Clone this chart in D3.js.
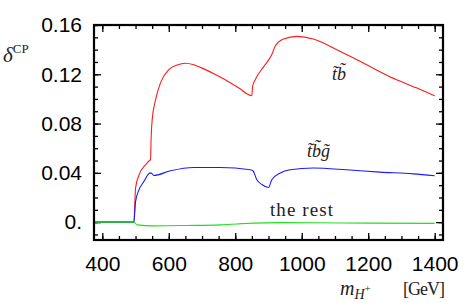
<!DOCTYPE html>
<html lang="en">
<head>
<meta charset="UTF-8">
<title>delta CP</title>
<script src="https://d3js.org/d3.v7.min.js"></script>
<style>
    body { margin: 0; background: #fff; }
    .tick text { font-family: "Liberation Sans", Arial, sans-serif; font-size: 21px; fill: #000; }
    .tick line { stroke: #000; stroke-width: 1.3; }
    .domain { display: none; }
    .serif { font-family: "Liberation Serif", "Times New Roman", serif; fill: #222; }
</style>
</head>
<body>
<script>
    // x ticks (m_H+ in GeV) and y ticks
    const xMajor = [400, 600, 800, 1000, 1200, 1400];
    const yMajor = [0, 0.04, 0.08, 0.12, 0.16];

    // stop-sbottom contribution (red)
    const massTb = [375, 495, 500, 510, 530, 543, 545, 547, 550, 560, 575, 600, 625, 650, 675, 700, 735, 770, 810, 850,
                    852, 860, 885, 910, 920, 945, 985, 1035, 1115, 1175, 1265, 1345, 1400];
    const deltaTb = [0, 0, 0.0276, 0.038, 0.0465, 0.0503, 0.0506, 0.0695, 0.083, 0.099, 0.113, 0.1237, 0.1275, 0.129, 0.1278, 0.125, 0.1205, 0.1156, 0.109, 0.1026,
                     0.110, 0.1156, 0.126, 0.136, 0.1427, 0.1486, 0.1508, 0.1487, 0.1386, 0.1305, 0.118, 0.109, 0.1026];

    // stop-sbottom-gluino contribution (blue)
    const massTbg = [375, 495, 500, 510, 525, 543, 547, 555, 605, 675, 755, 845, 853, 865, 880, 900, 910, 935, 965, 1035, 1135, 1235, 1335, 1400];
    const deltaTbg = [0, 0, 0.0167, 0.026, 0.033, 0.0398, 0.0398, 0.0379, 0.0417, 0.0444, 0.0444, 0.0425, 0.0417, 0.0344, 0.0305, 0.0281, 0.0344, 0.0398, 0.0425, 0.0439, 0.0425, 0.0406, 0.0392, 0.0376];

    // everything else (green)
    const massRest = [375, 495, 505, 555, 655, 755, 855, 935, 1035, 1200, 1400];
    const deltaRest = [0, 0, -0.0022, -0.003, -0.0027, -0.0022, -0.0008, -0.0004, -0.0005, -0.0008, -0.001];

    const pLeft = 94, pRight = 443, pTop = 25, pBottom = 240;

    const svg = d3.select("body").append("svg")
        .attr("width", 467)
        .attr("height", 303);

    const x = d3.scaleLinear().domain([375, 1425]).range([pLeft, pRight]);
    const y = d3.scaleLinear().domain([-0.0145, 0.16]).range([pBottom, pTop]);

    const xMinor = d3.range(400, 1401, 50);
    const yMinor = d3.range(-1, 17).map(d => d / 100);

    // minor ticks on all 4 sides, pointing in
    svg.append("g").attr("transform", `translate(0,${pBottom})`)
        .call(d3.axisBottom(x).tickValues(xMinor).tickSizeInner(-4).tickSizeOuter(0).tickFormat(""));
    svg.append("g").attr("transform", `translate(0,${pTop})`)
        .call(d3.axisTop(x).tickValues(xMinor).tickSizeInner(-4).tickSizeOuter(0).tickFormat(""));
    svg.append("g").attr("transform", `translate(${pLeft},0)`)
        .call(d3.axisLeft(y).tickValues(yMinor).tickSizeInner(-4).tickSizeOuter(0).tickFormat(""));
    svg.append("g").attr("transform", `translate(${pRight},0)`)
        .call(d3.axisRight(y).tickValues(yMinor).tickSizeInner(-4).tickSizeOuter(0).tickFormat(""));

    // major ticks + labels
    svg.append("g").attr("transform", `translate(0,${pBottom})`)
        .call(d3.axisBottom(x).tickValues(xMajor).tickSizeInner(-7).tickSizeOuter(0).tickPadding(16).tickFormat(d3.format("d")));
    svg.append("g").attr("transform", `translate(0,${pTop})`)
        .call(d3.axisTop(x).tickValues(xMajor).tickSizeInner(-7).tickSizeOuter(0).tickFormat(""));
    svg.append("g").attr("transform", `translate(${pLeft},0)`)
        .call(d3.axisLeft(y).tickValues(yMajor).tickSizeInner(-7).tickSizeOuter(0).tickPadding(12)
            .tickFormat(d => d === 0 ? "0." : d3.format(".2f")(d)));
    svg.append("g").attr("transform", `translate(${pRight},0)`)
        .call(d3.axisRight(y).tickValues(yMajor).tickSizeInner(-7).tickSizeOuter(0).tickFormat(""));

    const line = d3.line()
        .x(d => x(d[0]))
        .y(d => y(d[1]))
        .curve(d3.curveMonotoneX);

    const series = [
        { m: massTb, v: deltaTb, color: "#ff1a1a" },
        { m: massTbg, v: deltaTbg, color: "#1a1aff" },
        { m: massRest, v: deltaRest, color: "#1ee01e" }
    ];

    svg.selectAll("path.curve")
        .data(series)
        .enter()
        .append("path")
        .attr("class", "curve")
        .attr("d", s => line(s.m.map((m, i) => [m, s.v[i]])))
        .attr("fill", "none")
        .attr("stroke", s => s.color)
        .attr("stroke-width", 1.1);

    // frame
    svg.append("rect")
        .attr("x", pLeft).attr("y", pTop)
        .attr("width", pRight - pLeft).attr("height", pBottom - pTop)
        .attr("fill", "none").attr("stroke", "#000").attr("stroke-width", 2.2);

    // axis titles
    const yt = svg.append("text").attr("class", "serif").attr("x", 3).attr("y", 62);
    yt.append("tspan").attr("font-style", "italic").attr("font-size", 21).text("δ");
    yt.append("tspan").attr("font-size", 13).attr("dy", -9).text("CP");

    const xt = svg.append("text").attr("class", "serif").attr("x", 340).attr("y", 295);
    xt.append("tspan").attr("font-style", "italic").attr("font-size", 20).text("m");
    xt.append("tspan").attr("font-style", "italic").attr("font-size", 14).attr("dy", 4).text("H");
    xt.append("tspan").attr("font-size", 11).attr("dy", -7).text("+");
    xt.append("tspan").attr("font-size", 18).attr("x", 403).attr("dy", 3).attr("textLength", 42).text("[GeV]");

    // curve labels
    svg.append("text").attr("class", "serif").attr("x", 332).attr("y", 80)
        .attr("font-style", "italic").attr("font-size", 18).text("t\u0303b\u0303");
    svg.append("text").attr("class", "serif").attr("x", 307).attr("y", 157)
        .attr("font-style", "italic").attr("font-size", 18).text("t\u0303b\u0303g\u0303");
    svg.append("text").attr("class", "serif").attr("x", 270).attr("y", 216)
        .attr("font-size", 19).attr("textLength", 63).text("the rest");
</script>
</body>
</html>
